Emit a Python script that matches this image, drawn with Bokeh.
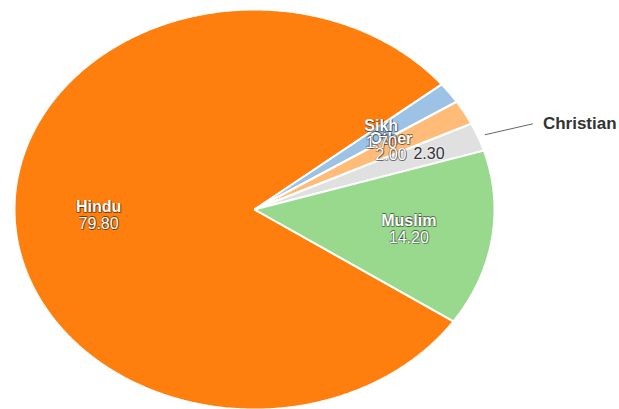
import math
from bokeh.plotting import figure
from bokeh.models import Range1d
from bokeh.core.properties import value
from bokeh.embed import file_html
from bokeh.resources import INLINE

# data (clockwise order as drawn)
names = ["Hindu", "Sikh", "Other", "Christian", "Muslim"]
values = [79.8, 1.7, 2.0, 2.3, 14.2]
colors = ["#ff7f0e", "#9cc2e5", "#ffbb78", "#e0e0e0", "#98d98e"]
value_labels = ["79.80", "1.70", "2.00", "2.30", "14.20"]

W, H = 619, 409
CX, CY, RX, RY = 254, 209, 240, 200
START = -34.0  # degrees, math convention; slices go clockwise
FONT = value("Liberation Sans")

p = figure(width=W, height=H, x_range=Range1d(0, W), y_range=Range1d(H, 0),
           output_backend="svg", toolbar_location=None, min_border=0)
p.axis.visible = False
p.grid.visible = False
p.outline_line_color = None
p.background_fill_color = "white"
p.border_fill_color = "white"

def pt(a_deg, f=1.0):
    a = math.radians(a_deg)
    return CX + RX * f * math.cos(a), CY - RY * f * math.sin(a)

total = sum(values)
xs, ys, mids = [], [], []
a0 = START
for v in values:
    span = v / total * 360.0
    n = max(4, int(span * 2))
    px, py = [CX], [CY]
    for i in range(n + 1):
        x, y = pt(a0 - span * i / n)
        px.append(x); py.append(y)
    xs.append(px); ys.append(py)
    mids.append(a0 - span / 2)
    a0 -= span

p.patches(xs, ys, fill_color=colors, line_color="white", line_width=2)

# inside labels
name_x, name_y, name_t = [], [], []
val_x, val_y, val_t, val_col, val_sh = [], [], [], [], []
for nm, vl, m in zip(names, value_labels, mids):
    f = 0.78 if nm == "Christian" else 0.65
    x, y = pt(m, f)
    if nm != "Christian":
        name_x.append(x); name_y.append(y - 8); name_t.append(nm)
        val_x.append(x); val_y.append(y + 8); val_t.append(vl)
        val_col.append("white"); val_sh.append("#000000")
    else:
        val_x.append(x); val_y.append(y); val_t.append(vl)
        val_col.append("#333333"); val_sh.append("#ffffff")

def shadowed(xs_, ys_, txt, col, sh, style, size="16px"):
    for dx, dy in [(1, 1), (-0.6, -0.6), (0.8, -0.6), (-0.6, 0.8)]:
        p.text(x=[x + dx for x in xs_], y=[y + dy for y in ys_], text=txt,
               text_font=FONT, text_font_size=size, text_font_style=style,
               text_color=sh, text_alpha=0.35,
               text_align="center", text_baseline="middle")
    p.text(x=xs_, y=ys_, text=txt, text_font=FONT, text_font_size=size,
           text_font_style=style, text_color=col,
           text_align="center", text_baseline="middle")

shadowed(name_x, name_y, name_t, "white", "#000000", "bold")
shadowed(val_x, val_y, val_t, val_col, val_sh, "normal")

# outside label for Christian
ci = names.index("Christian")
x0, y0 = pt(mids[ci], 1.03)
x1, y1 = x0 + 48, y0 - 11
p.line([x0, x1], [y0, y1], line_color="#666666", line_width=1)
p.text(x=[x1 + 10], y=[y1], text=[names[ci]], text_font=FONT,
       text_font_size="17px", text_font_style="bold", text_color="#333333",
       text_align="left", text_baseline="middle")

open("out.html", "w").write(file_html(p, INLINE))
